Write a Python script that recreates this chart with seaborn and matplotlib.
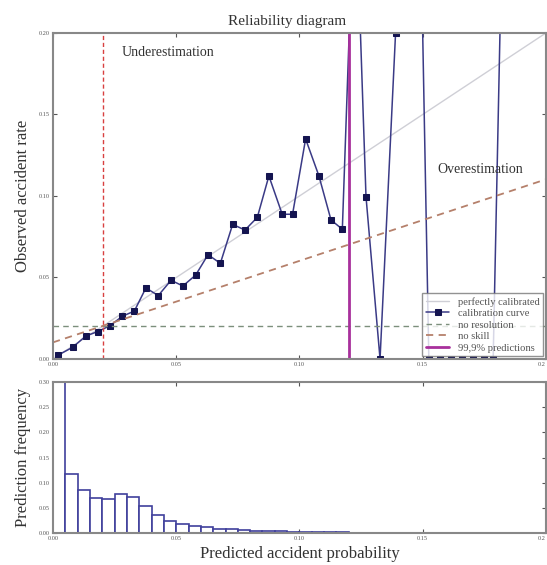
import numpy as np
import pandas as pd
import matplotlib
matplotlib.use("Agg")
import matplotlib.pyplot as plt
import seaborn as sns

# ---- data ----
mean_pred = [0.0022, 0.0080, 0.0133, 0.0181, 0.0231, 0.0281, 0.0330, 0.0377,
             0.0427, 0.0479, 0.0527, 0.0579, 0.0629, 0.0679, 0.0729, 0.0779,
             0.0829, 0.0876, 0.0930, 0.0972, 0.1025, 0.1079, 0.1128, 0.1174,
             0.1225, 0.1270, 0.1327, 0.1390, 0.1450, 0.1525, 0.1570, 0.1615,
             0.1660, 0.1705, 0.1750, 0.1786, 0.1855]
frac_pos = [0.0025, 0.0072, 0.0141, 0.0168, 0.0204, 0.0262, 0.0294, 0.0436,
            0.0389, 0.0483, 0.0448, 0.0515, 0.0640, 0.0587, 0.0826, 0.0791,
            0.0869, 0.1123, 0.0888, 0.0888, 0.1350, 0.1123, 0.0853, 0.0796,
            0.3000, 0.0996, 0.0000, 0.2000, 0.6000, 0.0000, 0.0000, 0.0000,
            0.0000, 0.0000, 0.0000, 0.0000, 0.5000]

hist_freq = [0.300, 0.118, 0.0847, 0.070, 0.068, 0.0767, 0.072, 0.0533,
             0.0367, 0.0247, 0.0187, 0.0147, 0.012, 0.0087, 0.0073, 0.006,
             0.005, 0.004, 0.0035, 0.003, 0.0025, 0.002, 0.0015, 0.0012,
             0.001, 0.0008, 0.0006, 0.0005]
bin_width = 0.005

base_rate = 0.0204
pct999 = 0.120

xticks = [0.00, 0.05, 0.10, 0.15, 0.20]
xticklabels = ["0.00", "0.05", "0.10", "0.15", "0.2"]
yticks_top = [0.00, 0.05, 0.10, 0.15, 0.20]
yticks_bot = [0.00, 0.05, 0.10, 0.15, 0.20, 0.25, 0.30]

# ---- style ----
sns.set_style("ticks")
plt.rcParams['font.family'] = ['Liberation Serif', 'DejaVu Serif']
plt.rcParams['xtick.direction'] = 'in'
plt.rcParams['ytick.direction'] = 'in'

fig = plt.figure(figsize=(5.47, 5.65), dpi=100)
ax1 = fig.add_axes([0.0969, 0.3646, 0.9011, 0.577])
ax2 = fig.add_axes([0.0969, 0.0566, 0.9011, 0.2673])

spine_col = '#888888'

# perfectly calibrated
diag = pd.DataFrame({"x": [0, 0.2], "y": [0, 0.2]})
sns.lineplot(data=diag, x="x", y="y", ax=ax1, color='#cfcfd6', lw=1.0,
             label="perfectly calibrated")

# calibration curve
cal = pd.DataFrame({"x": mean_pred, "y": frac_pos})
sns.lineplot(data=cal, x="x", y="y", ax=ax1, sort=False, color='#3a3a86', lw=1.1,
             marker='s', markersize=4.2, markerfacecolor='#141450',
             markeredgecolor='#141450', label="calibration curve")

# no resolution
ax1.axhline(base_rate, color='#7c8f7c', ls=(0, (4, 3)), lw=1.0, label="no resolution")
# no skill
sk = pd.DataFrame({"x": [0, 0.2], "y": [(0 + base_rate) / 2, (0.2 + base_rate) / 2]})
sns.lineplot(data=sk, x="x", y="y", ax=ax1, color='#b5806b', ls=(0, (4, 3)), lw=1.3,
             label="no skill")
# 99.9% predictions
ax1.axvline(pct999, color='#a8309c', lw=2.0, label="99,9% predictions")
# base rate vertical
ax1.axvline(base_rate, color='#d84040', ls=(0, (3, 2)), lw=1.0)

ax1.text(0.028, 0.188, "Underestimation", fontsize=10, color='#333333',
         ha='left', va='center')
ax1.text(0.156, 0.116, "Overestimation", fontsize=10, color='#333333',
         ha='left', va='center')

ax1.set_xlim(0, 0.2)
ax1.set_ylim(0, 0.2)
ax1.set_xticks(xticks)
ax1.set_xticklabels(xticklabels)
ax1.set_yticks(yticks_top)
ax1.set_yticklabels([f"{v:.2f}" for v in yticks_top])
ax1.set_title("Reliability diagram", fontsize=11, color='#333333', pad=6, x=0.475)
ax1.set_ylabel("Observed accident rate", fontsize=12, color='#333333')
ax1.set_xlabel("")
leg = ax1.legend(loc='lower right', fontsize=7.6, frameon=True, fancybox=False,
                 borderpad=0.35, labelspacing=0.2, handlelength=2.2,
                 borderaxespad=0.25)
leg.get_frame().set_edgecolor('#777777')
leg.get_frame().set_linewidth(1.0)
for t in leg.get_texts():
    t.set_color('#555555')

# histogram
centers = [bin_width * (i + 0.5) for i in range(len(hist_freq))]
edges = [bin_width * i for i in range(len(hist_freq) + 1)]
hd = pd.DataFrame({"p": centers, "w": hist_freq})
sns.histplot(data=hd, x="p", weights="w", bins=edges, ax=ax2, stat="count",
             color='white', edgecolor='#40409c', linewidth=1.2, alpha=1.0)
ax2.set_xlim(0, 0.2)
ax2.set_ylim(0, 0.30)
ax2.set_xticks(xticks)
ax2.set_xticklabels(xticklabels)
ax2.set_yticks(yticks_bot)
ax2.set_yticklabels([f"{v:.2f}" for v in yticks_bot])
ax2.set_xlabel("Predicted accident probability", fontsize=12, color='#333333')
ax2.set_ylabel("Prediction frequency", fontsize=12, color='#333333')

for ax in (ax1, ax2):
    for s in ax.spines.values():
        s.set_visible(True)
        s.set_color(spine_col)
        s.set_linewidth(1.5)
    ax.tick_params(axis='both', labelsize=4.5, colors='#555555', length=3,
                   top=True, right=True, direction='in', pad=2)
    # keep the last x tick label inside the figure
    ax.get_xticklabels()[-1].set_horizontalalignment('right')
ax1.yaxis.set_label_coords(-0.045, 0.5)
ax2.yaxis.set_label_coords(-0.045, 0.5)

fig.savefig("out.png", dpi=100)
